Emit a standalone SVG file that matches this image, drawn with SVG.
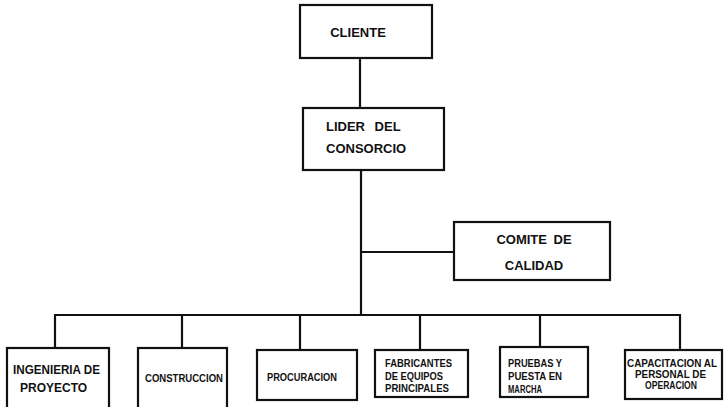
<svg xmlns="http://www.w3.org/2000/svg" width="727" height="407" viewBox="0 0 727 407">
<style>
.box{fill:#fff;stroke:#111;stroke-width:2.2}
.ln{stroke:#111;stroke-width:2.2;fill:none}
.t{font-family:"Liberation Sans",Arial,sans-serif;font-weight:bold;fill:#111}
.big{font-size:13px}
.mid{font-size:12px}
.sm{font-size:11px}
</style>
<rect width="727" height="407" fill="#fff"/>
<g id="connectors">
<line class="ln" x1="360" y1="58" x2="360" y2="108"/>
<line class="ln" x1="361" y1="170" x2="361" y2="315"/>
<line class="ln" x1="361" y1="252" x2="454" y2="252"/>
<line class="ln" x1="54" y1="315" x2="681" y2="315"/>
<line class="ln" x1="55" y1="315" x2="55" y2="348"/>
<line class="ln" x1="182" y1="315" x2="182" y2="348"/>
<line class="ln" x1="300" y1="315" x2="300" y2="350"/>
<line class="ln" x1="420" y1="315" x2="420" y2="350"/>
<line class="ln" x1="540" y1="315" x2="540" y2="347"/>
<line class="ln" x1="680" y1="315" x2="680" y2="350"/>
</g>
<g id="cliente">
<rect class="box" x="300" y="5" width="132" height="53"/>
<text class="t big" x="358" y="37" text-anchor="middle">CLIENTE</text>
</g>
<g id="lider">
<rect class="box" x="303" y="108" width="141" height="62"/>
<text class="t big" x="326" y="131" word-spacing="6">LIDER DEL</text>
<text class="t big" x="326" y="153">CONSORCIO</text>
</g>
<g id="comite">
<rect class="box" x="454" y="222" width="156" height="58"/>
<text class="t big" x="534" y="244" text-anchor="middle" word-spacing="3">COMITE DE</text>
<text class="t big" x="534" y="270" text-anchor="middle">CALIDAD</text>
</g>
<g id="ingenieria">
<rect class="box" x="7" y="348" width="102" height="70"/>
<text class="t mid" x="13" y="374" textLength="87" lengthAdjust="spacingAndGlyphs">INGENIERIA DE</text>
<text class="t mid" x="20" y="392">PROYECTO</text>
</g>
<g id="construccion">
<rect class="box" x="138" y="348" width="89" height="70"/>
<text class="t sm" x="145" y="382" textLength="78" lengthAdjust="spacingAndGlyphs">CONSTRUCCION</text>
</g>
<g id="procuracion">
<rect class="box" x="257" y="350" width="100" height="50"/>
<text class="t sm" x="267" y="381" textLength="70" lengthAdjust="spacingAndGlyphs">PROCURACION</text>
</g>
<g id="fabricantes">
<rect class="box" x="375" y="350" width="93" height="47"/>
<text class="t sm" x="385" y="367" textLength="67" lengthAdjust="spacingAndGlyphs">FABRICANTES</text>
<text class="t sm" x="385" y="380" textLength="58" lengthAdjust="spacingAndGlyphs">DE EQUIPOS</text>
<text class="t sm" x="385" y="392" textLength="64" lengthAdjust="spacingAndGlyphs">PRINCIPALES</text>
</g>
<g id="pruebas">
<rect class="box" x="500" y="347" width="88" height="50"/>
<text class="t sm" x="508" y="367" textLength="54" lengthAdjust="spacingAndGlyphs">PRUEBAS Y</text>
<text class="t sm" x="508" y="380" textLength="54" lengthAdjust="spacingAndGlyphs">PUESTA EN</text>
<text class="t sm" x="508" y="393" textLength="34" lengthAdjust="spacingAndGlyphs">MARCHA</text>
</g>
<g id="capacitacion">
<rect class="box" x="625" y="350" width="97" height="49"/>
<text class="t sm" x="627" y="367" textLength="90" lengthAdjust="spacingAndGlyphs">CAPACITACION AL</text>
<text class="t sm" x="635" y="378" textLength="71" lengthAdjust="spacingAndGlyphs">PERSONAL DE</text>
<text class="t sm" x="645" y="389" textLength="52" lengthAdjust="spacingAndGlyphs">OPERACION</text>
</g>
</svg>
